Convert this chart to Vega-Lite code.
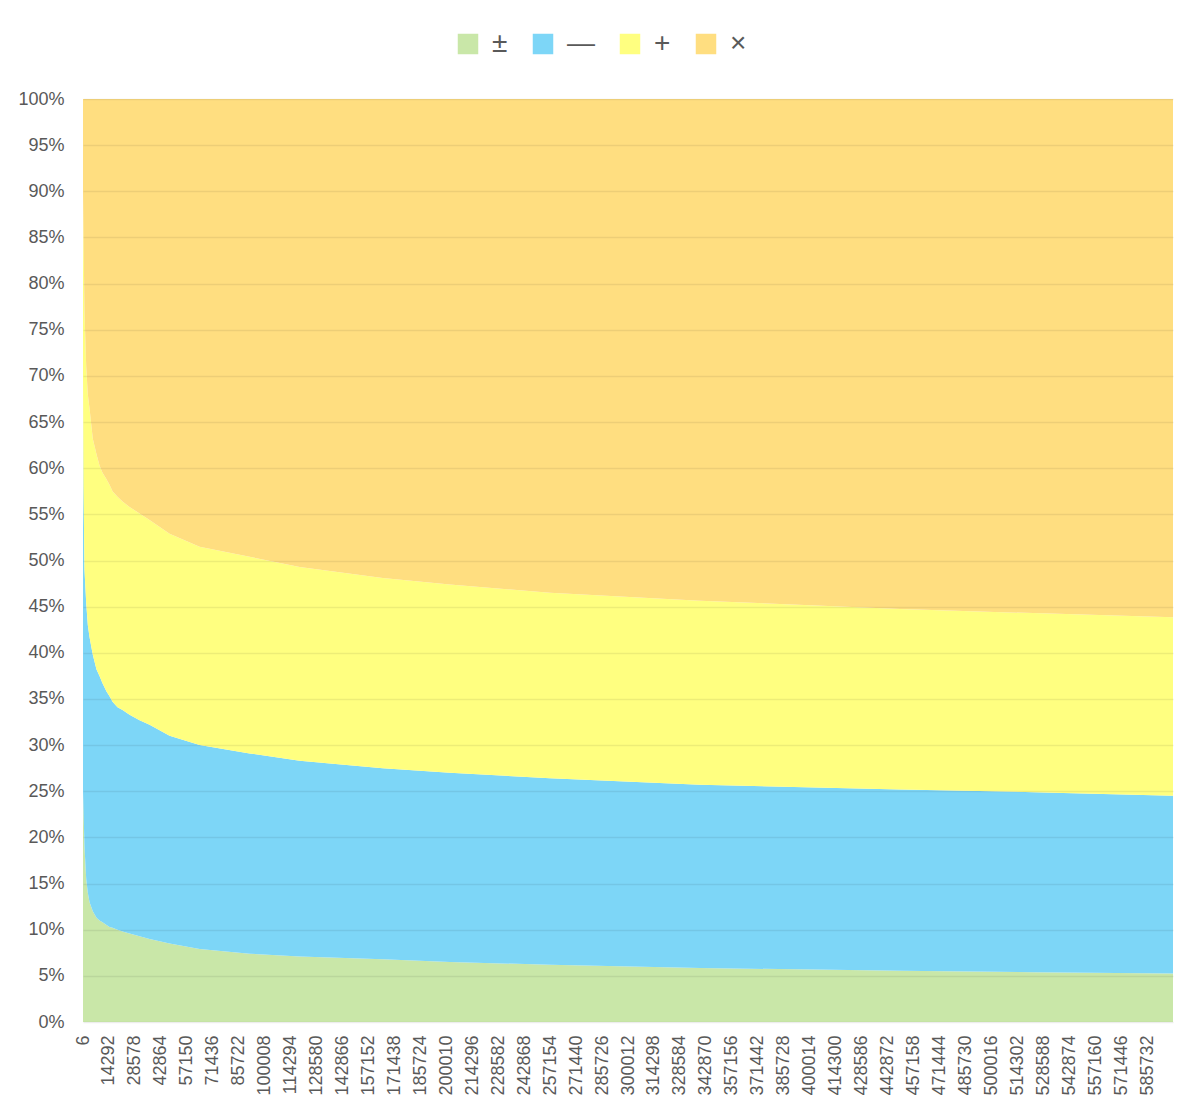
{
  "$schema": "https://vega.github.io/schema/vega-lite/v6.json",
  "width": 1090,
  "height": 923,
  "autosize": {"type": "none"},
  "padding": {"left": 83, "top": 99, "right": 27, "bottom": 94},
  "background": "#ffffff",
  "config": {
    "view": {"stroke": null},
    "font": "Liberation Sans"
  },
  "data": {
    "values": [
      {"x":6,"s":"±","k":1,"v":25},{"x":6,"s":"—","k":2,"v":45},{"x":6,"s":"+","k":3,"v":20},{"x":6,"s":"×","k":4,"v":10},
      {"x":280,"s":"±","k":1,"v":23},{"x":280,"s":"—","k":2,"v":35},{"x":280,"s":"+","k":3,"v":27},{"x":280,"s":"×","k":4,"v":15},
      {"x":830,"s":"±","k":1,"v":19},{"x":830,"s":"—","k":2,"v":30},{"x":830,"s":"+","k":3,"v":28},{"x":830,"s":"×","k":4,"v":23},
      {"x":1770,"s":"±","k":1,"v":15.5},{"x":1770,"s":"—","k":2,"v":29.9},{"x":1770,"s":"+","k":3,"v":25.6},{"x":1770,"s":"×","k":4,"v":29},
      {"x":2650,"s":"±","k":1,"v":14},{"x":2650,"s":"—","k":2,"v":29},{"x":2650,"s":"+","k":3,"v":25},{"x":2650,"s":"×","k":4,"v":32},
      {"x":3590,"s":"±","k":1,"v":13},{"x":3590,"s":"—","k":2,"v":28.7},{"x":3590,"s":"+","k":3,"v":24.8},{"x":3590,"s":"×","k":4,"v":33.5},
      {"x":5400,"s":"±","k":1,"v":12},{"x":5400,"s":"—","k":2,"v":27.8},{"x":5400,"s":"+","k":3,"v":23.4},{"x":5400,"s":"×","k":4,"v":36.8},
      {"x":7440,"s":"±","k":1,"v":11.3},{"x":7440,"s":"—","k":2,"v":26.9},{"x":7440,"s":"+","k":3,"v":23.3},{"x":7440,"s":"×","k":4,"v":38.5},
      {"x":9100,"s":"±","k":1,"v":11},{"x":9100,"s":"—","k":2,"v":26.5},{"x":9100,"s":"+","k":3,"v":22.8},{"x":9100,"s":"×","k":4,"v":39.7},
      {"x":10750,"s":"±","k":1,"v":10.8},{"x":10750,"s":"—","k":2,"v":25.9},{"x":10750,"s":"+","k":3,"v":22.8},{"x":10750,"s":"×","k":4,"v":40.5},
      {"x":12950,"s":"±","k":1,"v":10.5},{"x":12950,"s":"—","k":2,"v":25.3},{"x":12950,"s":"+","k":3,"v":23},{"x":12950,"s":"×","k":4,"v":41.2},
      {"x":14600,"s":"±","k":1,"v":10.3},{"x":14600,"s":"—","k":2,"v":25},{"x":14600,"s":"+","k":3,"v":22.9},{"x":14600,"s":"×","k":4,"v":41.8},
      {"x":16260,"s":"±","k":1,"v":10.2},{"x":16260,"s":"—","k":2,"v":24.5},{"x":16260,"s":"+","k":3,"v":22.8},{"x":16260,"s":"×","k":4,"v":42.5},
      {"x":19000,"s":"±","k":1,"v":10},{"x":19000,"s":"—","k":2,"v":24.1},{"x":19000,"s":"+","k":3,"v":22.8},{"x":19000,"s":"×","k":4,"v":43.1},
      {"x":21770,"s":"±","k":1,"v":9.8},{"x":21770,"s":"—","k":2,"v":24},{"x":21770,"s":"+","k":3,"v":22.6},{"x":21770,"s":"×","k":4,"v":43.6},
      {"x":25630,"s":"±","k":1,"v":9.6},{"x":25630,"s":"—","k":2,"v":23.7},{"x":25630,"s":"+","k":3,"v":22.5},{"x":25630,"s":"×","k":4,"v":44.2},
      {"x":31140,"s":"±","k":1,"v":9.3},{"x":31140,"s":"—","k":2,"v":23.4},{"x":31140,"s":"+","k":3,"v":22.4},{"x":31140,"s":"×","k":4,"v":44.9},
      {"x":36650,"s":"±","k":1,"v":9},{"x":36650,"s":"—","k":2,"v":23.2},{"x":36650,"s":"+","k":3,"v":22.2},{"x":36650,"s":"×","k":4,"v":45.6},
      {"x":47660,"s":"±","k":1,"v":8.5},{"x":47660,"s":"—","k":2,"v":22.5},{"x":47660,"s":"+","k":3,"v":21.9},{"x":47660,"s":"×","k":4,"v":47.1},
      {"x":64180,"s":"±","k":1,"v":7.9},{"x":64180,"s":"—","k":2,"v":22.1},{"x":64180,"s":"+","k":3,"v":21.5},{"x":64180,"s":"×","k":4,"v":48.5},
      {"x":91730,"s":"±","k":1,"v":7.4},{"x":91730,"s":"—","k":2,"v":21.7},{"x":91730,"s":"+","k":3,"v":21.3},{"x":91730,"s":"×","k":4,"v":49.6},
      {"x":119280,"s":"±","k":1,"v":7.1},{"x":119280,"s":"—","k":2,"v":21.2},{"x":119280,"s":"+","k":3,"v":21},{"x":119280,"s":"×","k":4,"v":50.7},
      {"x":165000,"s":"±","k":1,"v":6.8},{"x":165000,"s":"—","k":2,"v":20.7},{"x":165000,"s":"+","k":3,"v":20.6},{"x":165000,"s":"×","k":4,"v":51.9},
      {"x":201930,"s":"±","k":1,"v":6.5},{"x":201930,"s":"—","k":2,"v":20.5},{"x":201930,"s":"+","k":3,"v":20.4},{"x":201930,"s":"×","k":4,"v":52.6},
      {"x":257020,"s":"±","k":1,"v":6.2},{"x":257020,"s":"—","k":2,"v":20.2},{"x":257020,"s":"+","k":3,"v":20.1},{"x":257020,"s":"×","k":4,"v":53.5},
      {"x":339660,"s":"±","k":1,"v":5.85},{"x":339660,"s":"—","k":2,"v":19.85},{"x":339660,"s":"+","k":3,"v":19.95},{"x":339660,"s":"×","k":4,"v":54.35},
      {"x":449850,"s":"±","k":1,"v":5.55},{"x":449850,"s":"—","k":2,"v":19.65},{"x":449850,"s":"+","k":3,"v":19.55},{"x":449850,"s":"×","k":4,"v":55.25},
      {"x":523130,"s":"±","k":1,"v":5.4},{"x":523130,"s":"—","k":2,"v":19.5},{"x":523130,"s":"+","k":3,"v":19.4},{"x":523130,"s":"×","k":4,"v":55.7},
      {"x":600000,"s":"±","k":1,"v":5.25},{"x":600000,"s":"—","k":2,"v":19.25},{"x":600000,"s":"+","k":3,"v":19.35},{"x":600000,"s":"×","k":4,"v":56.15}
    ]
  },
  "mark": {"type": "area", "interpolate": "linear", "strokeWidth": 0},
  "encoding": {
    "x": {
      "field": "x",
      "type": "quantitative",
      "scale": {"domain": [6, 600000], "nice": false, "zero": false},
      "axis": {
        "values": [6,14292,28578,42864,57150,71436,85722,100008,114294,128580,142866,157152,171438,185724,200010,214296,228582,242868,257154,271440,285726,300012,314298,328584,342870,357156,371442,385728,400014,414300,428586,442872,457158,471444,485730,500016,514302,528588,542874,557160,571446,585732],
        "format": "d",
        "title": null,
        "labelAngle": 270,
        "labelAlign": "right",
        "labelBaseline": "middle",
        "labelFontSize": 18,
        "labelColor": "#595959",
        "labelPadding": 13,
        "labelOverlap": false,
        "labelFlush": false,
        "ticks": false,
        "domain": false,
        "grid": false
      }
    },
    "y": {
      "field": "v",
      "type": "quantitative",
      "stack": "normalize",
      "scale": {"domain": [0, 1], "nice": false},
      "axis": {
        "values": [0,0.05,0.1,0.15,0.2,0.25,0.3,0.35,0.4,0.45,0.5,0.55,0.6,0.65,0.7,0.75,0.8,0.85,0.9,0.95,1],
        "format": ".0%",
        "title": null,
        "labelFontSize": 18,
        "labelColor": "#595959",
        "labelPadding": 19,
        "ticks": false,
        "domain": false,
        "grid": true,
        "gridColor": "#000000",
        "gridOpacity": 0.07,
        "gridWidth": 1.3,
        "zindex": 1
      }
    },
    "color": {
      "field": "s",
      "type": "nominal",
      "sort": ["±","—","+","×"],
      "scale": {"domain": ["±","—","+","×"], "range": ["#C9E7A8","#7DD6F7","#FFFF80","#FFDE80"]},
      "legend": {
        "title": null,
        "orient": "none",
        "direction": "horizontal",
        "legendX": 371,
        "legendY": -69,
        "symbolType": "square",
        "symbolSize": 420,
        "symbolStrokeWidth": 0,
        "symbolOpacity": 1,
        "labelFontSize": 28,
        "labelColor": "#595959",
        "labelOffset": 10,
        "columnPadding": 21
      }
    },
    "order": {"field": "k", "type": "quantitative", "sort": "ascending"}
  }
}
